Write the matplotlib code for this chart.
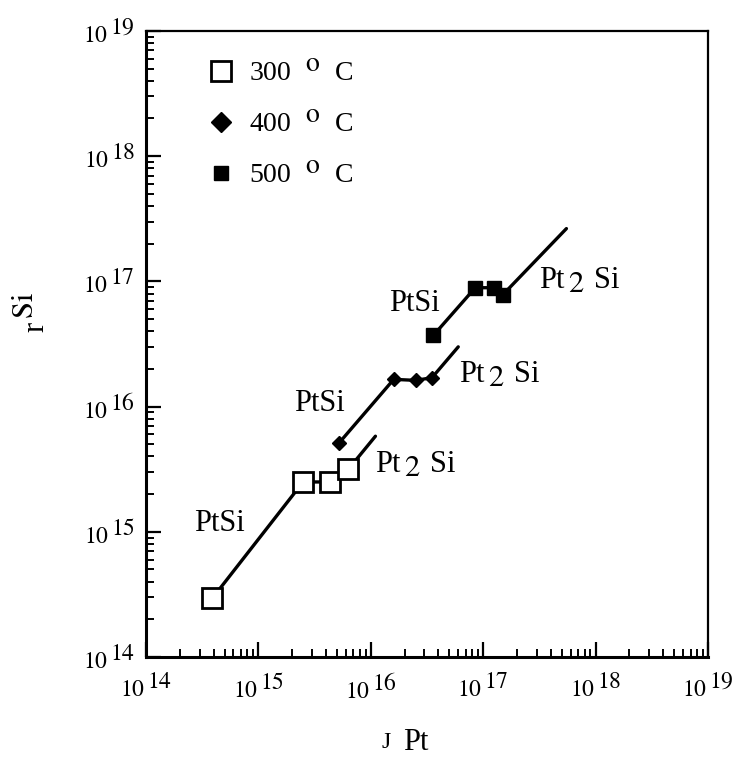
import matplotlib
matplotlib.use("Agg")
import matplotlib.pyplot as plt
import matplotlib._mathtext as mt
from matplotlib.ticker import LogLocator, NullFormatter, FixedLocator

plt.rcParams['font.family'] = ['Liberation Serif', 'DejaVu Serif']
plt.rcParams['mathtext.fontset'] = 'stix'
mt.SHRINK_FACTOR = 1.0  # exponents in the scan are full size

# data
x300 = [3.9e14, 2.5e15, 4.3e15, 6.3e15]
y300 = [2.95e14, 2.5e15, 2.5e15, 3.15e15]
x400 = [5.2e15, 1.6e16, 2.5e16, 3.5e16]
y400 = [5.1e15, 1.65e16, 1.62e16, 1.7e16]
x500 = [3.6e16, 8.5e16, 1.26e17, 1.5e17]
y500 = [3.7e16, 8.9e16, 8.9e16, 7.85e16]
# upper ends of the drawn Pt2Si lines
end_x = [1.1e16, 6.0e16, 5.5e17]
end_y = [5.8e15, 3.0e16, 2.64e17]

fig = plt.figure(figsize=(7.47, 7.65), dpi=100)
ax = fig.add_axes([0.1954, 0.1412, 0.7524, 0.8183])
ax.set_xscale('log')
ax.set_yscale('log')
ax.set_xlim(1e14, 1e19)
ax.set_ylim(1e14, 1e19)

# lines through the points
for xs, ys, ex, ey in zip([x300, x400, x500], [y300, y400, y500], end_x, end_y):
    ax.plot(xs + [ex], ys + [ey], color='black', lw=2.4, solid_capstyle='round', zorder=2)

ax.plot(x300, y300, ls='none', marker='s', ms=14, mfc='white', mec='black', mew=2,
        label='300  $^{\\rm o}$  C', zorder=3)
ax.plot(x400, y400, ls='none', marker='D', ms=7.5, color='black',
        label='400  $^{\\rm o}$  C', zorder=3)
ax.plot(x500, y500, ls='none', marker='s', ms=10, color='black',
        label='500  $^{\\rm o}$  C', zorder=3)

leg = ax.legend(loc='upper left', bbox_to_anchor=(0.075, 0.984), frameon=False,
                fontsize=20, handlelength=1.0, handletextpad=0.5, labelspacing=0.88,
                borderpad=0.2)
leg.legend_handles[1].set_markersize(10)

txt = dict(fontsize=22, color='black')
ax.text(4.5e14, 1.17e15, 'PtSi', ha='center', va='center', **txt)
ax.text(3.5e15, 1.06e16, 'PtSi', ha='center', va='center', **txt)
ax.text(2.43e16, 6.65e16, 'PtSi', ha='center', va='center', **txt)
ax.text(1.08e16, 3.4e15, 'Pt$_{\\,2}$ Si', ha='left', va='center', **txt)
ax.text(6.15e16, 1.77e16, 'Pt$_{\\,2}$ Si', ha='left', va='center', **txt)
ax.text(3.13e17, 1.01e17, 'Pt$_{\\,2}$ Si', ha='left', va='center', **txt)

decades = [1e14, 1e15, 1e16, 1e17, 1e18, 1e19]
labels = ['$\\mathrm{10}^{\\,%d}$' % e for e in range(14, 20)]
for axis in (ax.xaxis, ax.yaxis):
    axis.set_major_locator(FixedLocator(decades))
    axis.set_minor_locator(LogLocator(base=10, subs=range(2, 10), numticks=20))
    axis.set_minor_formatter(NullFormatter())
ax.set_xticks(decades, labels)
ax.set_yticks(decades, labels)

ax.tick_params(which='major', direction='in', length=11, width=1.6, labelsize=17, pad=8)
ax.tick_params(which='minor', direction='in', length=6, width=1.4)
ax.tick_params(axis='x', pad=12)
for side, w in [('left', 2.2), ('bottom', 2.2), ('top', 1.6), ('right', 1.6)]:
    ax.spines[side].set_linewidth(w)

# x label: small J, larger Pt
ax.set_xlabel('Pt', fontsize=22)
ax.xaxis.set_label_coords(0.48, -0.113)
ax.text(0.428, -0.154, 'J', transform=ax.transAxes, fontsize=17,
        ha='center', va='bottom')
ax.set_ylabel('r$^{\\,\\mathrm{Si}}$', fontsize=22)
ax.yaxis.set_label_coords(-0.167, 0.55)

fig.savefig('out.png', dpi=100)
